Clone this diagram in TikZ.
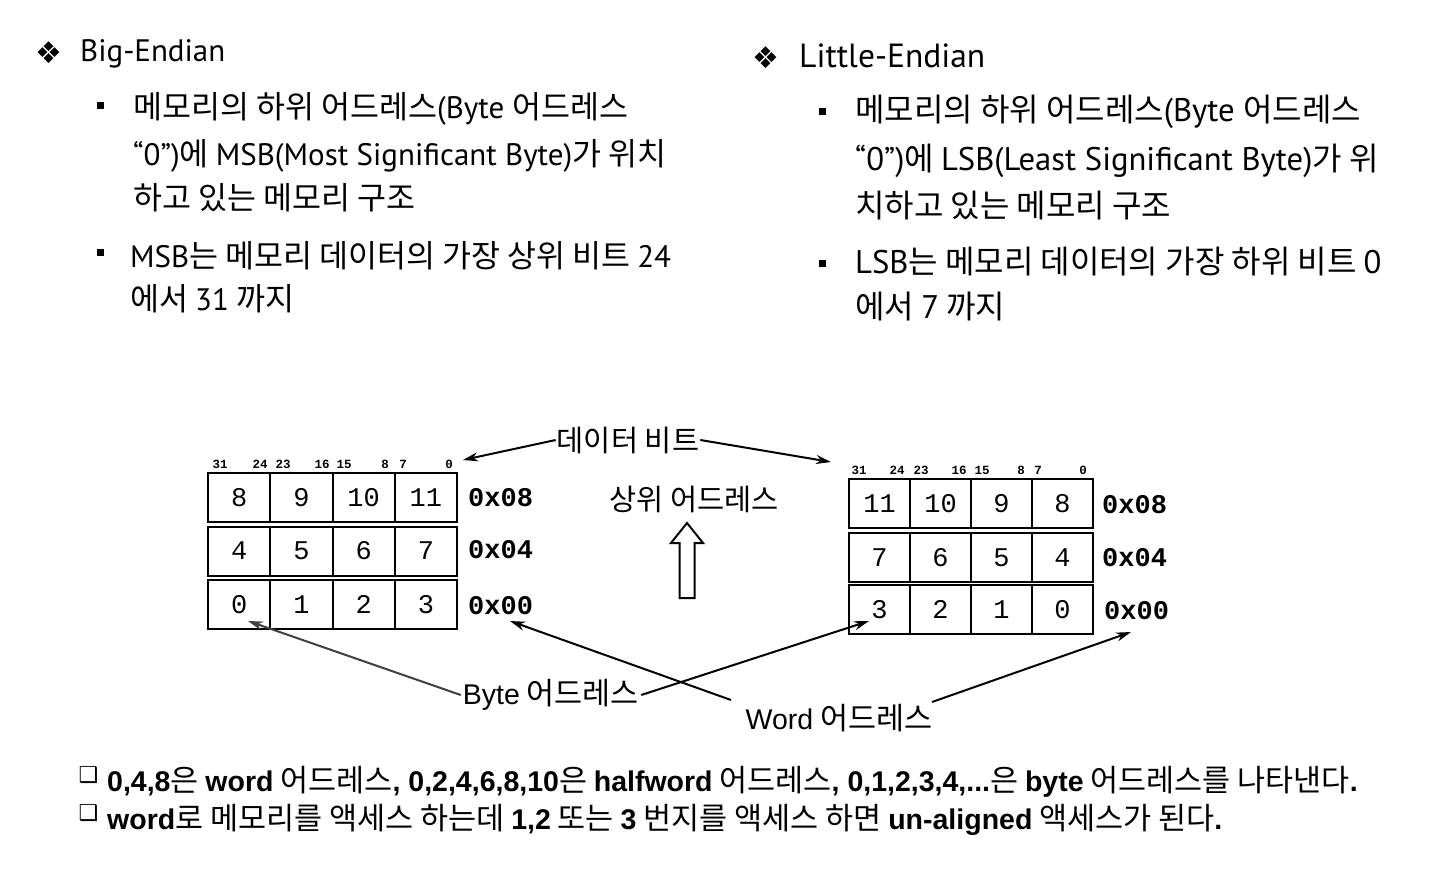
\documentclass[tikz,border=0pt]{standalone}
\usepackage{fontspec}
\setmainfont{Noto Sans CJK KR}
\newfontfamily\kr{Noto Sans CJK KR}
\newfontfamily\ar{Liberation Sans}
\newfontfamily\mono{Liberation Mono}
\newfontfamily\dju{DejaVu Sans}
\newfontfamily\pts{PT Sans}
\usetikzlibrary{arrows.meta}
\def\latsz{28}
\newcommand{\Bf}[1]{{\ar\bfseries\fontsize{28.5}{28.5}\selectfont #1}}
\newcommand{\lat}[1]{{\pts\fontsize{\latsz}{\latsz}\selectfont #1}}
\begin{document}
\begin{tikzpicture}[x=1pt,y=-1pt,
  lt/.style={anchor=base west, inner sep=0pt, font={\def\latsz{31}\kr\fontsize{31.5}{31.5}\selectfont}},
  rt/.style={anchor=base west, inner sep=0pt, font={\def\latsz{32.7}\kr\fontsize{32}{32}\selectfont}},
  ttl/.style={anchor=base west, inner sep=0pt, font=\pts\fontsize{31}{31}\selectfont},
  dia/.style={inner sep=0pt, font=\dju\fontsize{30}{30}\selectfont},
  sq/.style={fill=black, draw=none, minimum size=7pt, inner sep=0pt},
  cellL/.style={draw, line width=2pt, minimum width=62.25pt, minimum height=49pt, inner sep=0pt, font=\mono\fontsize{27}{27}\selectfont},
  cellR/.style={draw, line width=2pt, minimum width=61pt, minimum height=49pt, inner sep=0pt, font=\mono\fontsize{27}{27}\selectfont},
  addr/.style={anchor=west, inner sep=0pt, font=\mono\bfseries\fontsize{27}{27}\selectfont},
  bit/.style={inner sep=0pt, font=\mono\bfseries\fontsize{12.5}{12.5}\selectfont},
  mid/.style={inner sep=1pt, font=\kr\fontsize{29.5}{29.5}\selectfont},
  lab/.style={inner sep=2pt, font=\kr\fontsize{30.5}{30.5}\selectfont},
  arr/.style={line width=2pt, -{Stealth[length=15pt,width=9pt]}},
  bot/.style={anchor=base west, inner sep=0pt, font=\kr\fontsize{30.5}{30.5}\selectfont},
  box/.style={inner sep=0pt, font=\dju\fontsize{22}{22}\selectfont}
]
\useasboundingbox (0,0) rectangle (1440,893);
\fill[white] (0,0) rectangle (1440,893);

% ---------- Left column ----------
\node[dia] (dl) at (48.5,53) {❖};
\node[ttl] (tl) at (80,62) {Big-Endian};
\node[sq] (bl1) at (100.5,105.5) {};
\node[lt] (l1) at (133,119) {메모리의 하위 어드레스\lat{(Byte }어드레스};
\node[lt] (l2) at (133,166) {\lat{“0”)}에 \lat{MSB(Most Significant Byte)}가 위치};
\node[lt] (l3) at (133,210) {하고 있는 메모리 구조};
\node[sq] (bl2) at (100.5,253) {};
\node[lt] (l4) at (130,268) {\lat{MSB}는 메모리 데이터의 가장 상위 비트 \lat{24}};
\node[lt] (l5) at (130,311) {에서 \lat{31} 까지};

% ---------- Right column ----------
\node[dia] (dr) at (766,58) {❖};
\node[ttl, font=\pts\fontsize{33.5}{33.5}\selectfont] (tr) at (799,68) {Little-Endian};
\node[sq] (br1) at (822.5,112) {};
\node[rt] (r1) at (855,122) {메모리의 하위 어드레스\lat{(Byte }어드레스};
\node[rt] (r2) at (855,171) {\lat{“0”)}에 \lat{LSB(Least Significant Byte)}가 위};
\node[rt] (r3) at (855,218) {치하고 있는 메모리 구조};
\node[sq] (br2) at (822.5,264) {};
\node[rt] (r4) at (855,274) {\lat{LSB}는 메모리 데이터의 가장 하위 비트 \lat{0}};
\node[rt] (r5) at (855,318) {에서 \lat{7} 까지};

% ---------- Left memory table ----------
\foreach \row/\yy/\vals in {0/497.5/{8,9,10,11},1/551/{4,5,6,7},2/604.5/{0,1,2,3}} {
  \foreach \v [count=\c] in \vals {
    \node[cellL] (L\row\c) at ({208+62.25*(\c-0.5)},\yy) {\v};
  }
}
\node[addr] (la0) at (468,498) {0x08};
\node[addr] (la1) at (468,550) {0x04};
\node[addr] (la2) at (468,606) {0x00};
\foreach \t/\xx in {31/220,24/260,23/283,16/322,15/344,8/385,7/403,0/449} {
  \node[bit] (lb\t) at (\xx,464) {\t};
}

% ---------- Right memory table ----------
\foreach \row/\yy/\vals in {0/503.5/{11,10,9,8},1/557.5/{7,6,5,4},2/609.5/{3,2,1,0}} {
  \foreach \v [count=\c] in \vals {
    \node[cellR] (R\row\c) at ({849+61*(\c-0.5)},\yy) {\v};
  }
}
\node[addr] (ra0) at (1102,505) {0x08};
\node[addr] (ra1) at (1102,558) {0x04};
\node[addr] (ra2) at (1104,611) {0x00};
\foreach \t/\xx in {31/859,24/897,23/921,16/959,15/982,8/1021,7/1038,0/1083} {
  \node[bit] (rb\t) at (\xx,470) {\t};
}

% ---------- Middle ----------
\node[mid] (dbit) at (628,440) {데이터 비트};
\coordinate (dbl) at (463,460);
\coordinate (dbr) at (831,462);
\draw[arr] (dbit.west) -- (dbl);
\draw[arr] (dbit.east) -- (dbr);

\node[mid] (hi) at (694,499) {상위 어드레스};
\draw[line width=2pt, line join=miter] (687,523) -- (703,543) -- (694.5,543) -- (694.5,598) -- (679.5,598) -- (679.5,543) -- (671,543) -- cycle;

\node[lab] (byte) at (551,695) {{\ar\fontsize{28.5}{28.5}\selectfont Byte} 어드레스};
\node[lab] (word) at (839,718) {{\ar\fontsize{28.5}{28.5}\selectfont Word} 어드레스};
\coordinate (b0) at (248,621);
\coordinate (b3) at (869,621);
\coordinate (w0) at (510,621);
\coordinate (w1) at (1131,632);
\coordinate (wl) at (731,700);
\coordinate (wr) at (932,702);
\draw[arr, draw=black!75] (byte.west) -- (b0);
\draw[arr] (byte.east) -- (b3);
\draw[arr] (wl) -- (w0);
\draw[arr] (wr) -- (w1);

% ---------- Bottom notes ----------
\node[box] (q1) at (88.5,775.5) {❑};
\node[bot] (n1) at (107,791) {\Bf{0,4,8}은 \Bf{word} 어드레스\Bf{, 0,2,4,6,8,10}은 \Bf{halfword} 어드레스\Bf{, 0,1,2,3,4,...}은 \Bf{byte} 어드레스를 나타낸다\Bf{.}};
\node[box] (q2) at (88.5,813.5) {❑};
\node[bot] (n2) at (107,829) {\Bf{word}로 메모리를 액세스 하는데 \Bf{1,2} 또는 \Bf{3} 번지를 액세스 하면 \Bf{un-aligned} 액세스가 된다\Bf{.}};
\end{tikzpicture}
\end{document}
